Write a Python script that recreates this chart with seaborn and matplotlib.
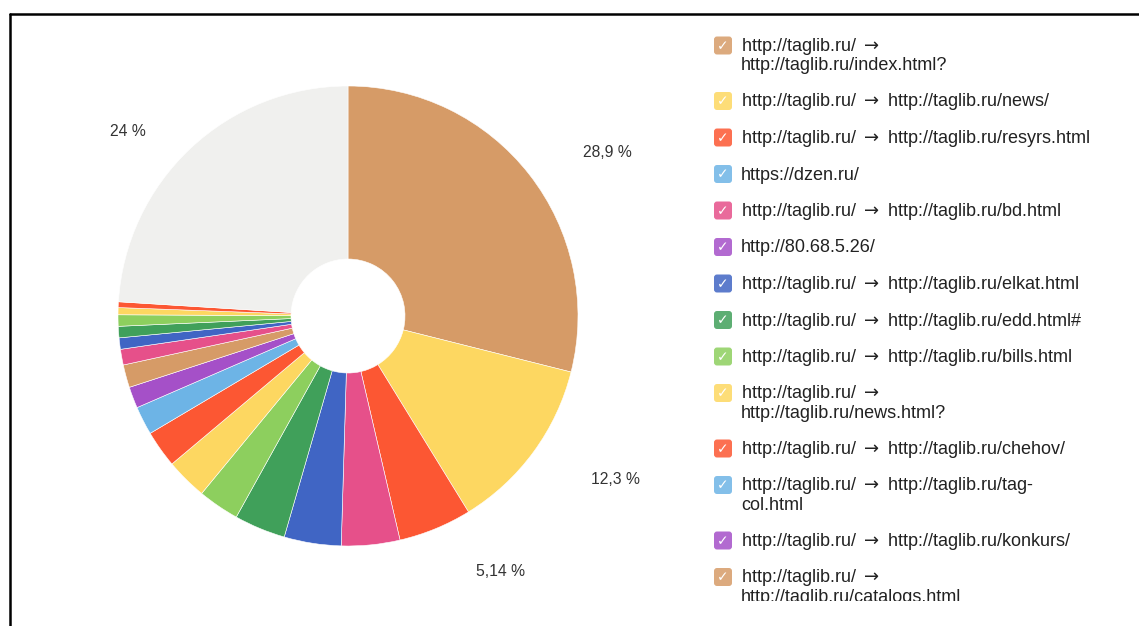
import matplotlib
matplotlib.use("Agg")
import matplotlib.pyplot as plt
import seaborn as sns
from matplotlib.lines import Line2D
from matplotlib.patches import FancyBboxPatch

# Pie slices, clockwise from 12 o'clock (values in %)
slice_values = [28.9, 12.3, 5.14, 4.1, 4.0, 3.6, 2.9, 2.9, 2.6, 2.0, 1.5, 1.6,
                1.1, 0.8, 0.8, 0.8, 0.5, 0.4, 24.0]
slice_labels = ["28,9 %", "12,3 %", "5,14 %", "", "", "", "", "", "", "", "", "",
                "", "", "", "", "", "", "24 %"]
slice_colors = ["#D69B67", "#FDD761", "#FC5733", "#E6508A", "#4065C4", "#40A05A",
                "#8DCF5E", "#FDD761", "#FC5733", "#6DB4E6", "#A550C8", "#D69B67",
                "#E6508A", "#4065C4", "#40A05A", "#8DCF5E", "#FDD761", "#FC5733",
                "#F0F0EE"]
# where the chart put the four value labels (pie radius units)
label_pos = {0: (1.126, 0.713), 1: (1.161, -0.713), 2: (0.661, -1.113), 18: (-0.957, 0.80)}

# Legend entries (visible part of the legend)
legend_labels = [
    "http://taglib.ru/ \u2192\nhttp://taglib.ru/index.html?",
    "http://taglib.ru/ \u2192 http://taglib.ru/news/",
    "http://taglib.ru/ \u2192 http://taglib.ru/resyrs.html",
    "https://dzen.ru/",
    "http://taglib.ru/ \u2192 http://taglib.ru/bd.html",
    "http://80.68.5.26/",
    "http://taglib.ru/ \u2192 http://taglib.ru/elkat.html",
    "http://taglib.ru/ \u2192 http://taglib.ru/edd.html#",
    "http://taglib.ru/ \u2192 http://taglib.ru/bills.html",
    "http://taglib.ru/ \u2192\nhttp://taglib.ru/news.html?",
    "http://taglib.ru/ \u2192 http://taglib.ru/chehov/",
    "http://taglib.ru/ \u2192 http://taglib.ru/tag-\ncol.html",
    "http://taglib.ru/ \u2192 http://taglib.ru/konkurs/",
    "http://taglib.ru/ \u2192\nhttp://taglib.ru/catalogs.html",
]
legend_colors = ["#D69B67", "#FDD761", "#FC5733", "#6DB4E6", "#E6508A", "#A550C8",
                 "#4065C4", "#40A05A", "#8DCF5E", "#FDD761", "#FC5733", "#6DB4E6",
                 "#A550C8", "#D69B67"]

sns.set_theme(style="white")
plt.rcParams["font.family"] = ["Liberation Sans", "DejaVu Sans"]

W, H = 1139, 626
fig = plt.figure(figsize=(W / 100, H / 100), dpi=100)
fig.patch.set_facecolor("white")

# pie axes: centre (348, 316) px, radius 230 px
cx, cy, r = 348, 316, 230
ax = fig.add_axes([(cx - r) / W, (H - cy - r) / H, 2 * r / W, 2 * r / H])
wedges, texts = ax.pie(
    slice_values,
    labels=slice_labels,
    colors=sns.color_palette(slice_colors),
    startangle=90,
    counterclock=False,
    wedgeprops=dict(width=173 / 230, edgecolor="white", linewidth=0.4),
    textprops=dict(fontsize=11.3, color="#333333"),
)
for i, (px, py) in label_pos.items():
    texts[i].set_position((px, py))
    texts[i].set_ha("center")
    texts[i].set_va("center")
ax.set_xlim(-1, 1)
ax.set_ylim(-1, 1)
ax.axis("off")

# legend drawn in pixel coordinates, clipped like the original
lx0, lx1, ly0, ly1 = 705, 1091, 25, 601
lax = fig.add_axes([lx0 / W, (H - ly1) / H, (lx1 - lx0) / W, (ly1 - ly0) / H])
lax.set_xlim(lx0, lx1)
lax.set_ylim(ly1, ly0)
lax.axis("off")

y = 45.5
for label, color in zip(legend_labels, legend_colors):
    box = FancyBboxPatch((714, y - 9), 18, 18, boxstyle="round,pad=0,rounding_size=3",
                         facecolor=color, edgecolor="none", alpha=0.85, clip_on=True)
    lax.add_patch(box)
    lax.text(723, y + 0.5, "\u2713", ha="center", va="center", color="white",
             fontsize=10, family="DejaVu Sans", fontweight="bold", clip_on=True)
    lines = label.split("\n")
    for k, line in enumerate(lines):
        lax.text(741, y + 5.5 + 19 * k, line.replace("\u2192", r"${\rightarrow}$"),
                 ha="left", va="baseline", fontsize=13, color="#222222", clip_on=True)
    y += 36.5 + 19 * (len(lines) - 1)

# border lines of the screenshot frame
fig.add_artist(Line2D([10 / W, 1], [1 - 14 / H, 1 - 14 / H], color="black", lw=1.8))
fig.add_artist(Line2D([10 / W, 10 / W], [0, 1 - 14 / H], color="black", lw=1.8))

fig.savefig("out.png", dpi=100)
